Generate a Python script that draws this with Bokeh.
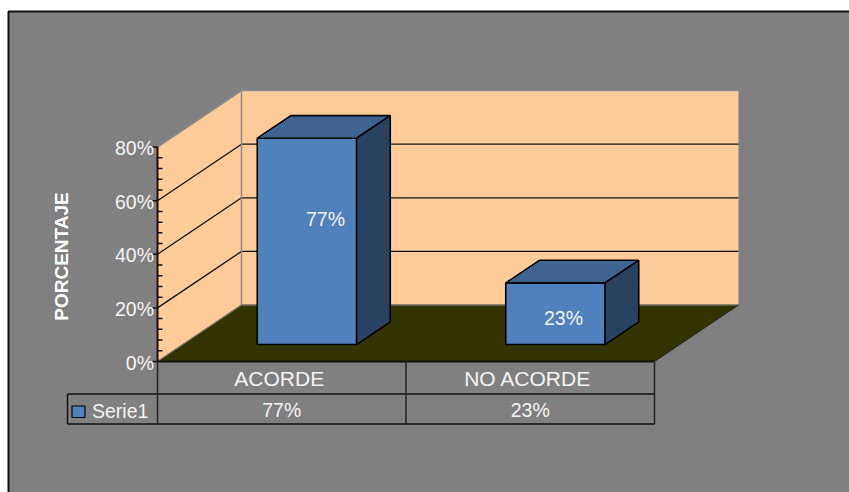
from bokeh.plotting import figure
from bokeh.embed import file_html
from bokeh.resources import INLINE
from bokeh.core.properties import value

# ---- data ----
categories = ["ACORDE", "NO ACORDE"]
series_name = "Serie1"
series_values = [77, 23]
y_ticks = [0, 20, 40, 60, 80]
minor_step = 4
y_title = "PORCENTAJE"

# ---- colours ----
GRAY, PEACH, FLOOR = "#808080", "#FFCC99", "#333300"
FRONT, TOP, SIDE = "#4F81BD", "#3E6490", "#294261"
TXT = "#F4F4F4"
FONT = value("Liberation Sans")

# ---- layout: one unit of x is one category, one unit of y is one percent ----
W, H = 849, 492
X0_PX, Y0_PX = 157, 361       # pixel of the front origin
XS, YS = 248.5, 2.68          # pixels per category / per percent
DX, DY = 84 / XS, 56.5 / YS   # oblique offset for full depth, in data units
Zb0, Zb1, GAP = 0.3, 0.7, 0.3 # depth of bars, and side gap in a category
ymax = y_ticks[-1]
n = len(categories)


def fx(px):
    return (px - X0_PX) / XS


def fy(py):
    return (Y0_PX - py) / YS


def P(x, v, z=0.0):
    return x + z * DX, v + z * DY


p = figure(width=W, height=H, output_backend="svg", toolbar_location=None,
           x_range=(fx(0), fx(W)), y_range=(fy(H), fy(0)),
           min_border=0, outline_line_color=None)
p.axis.visible = False
p.grid.visible = False
p.background_fill_color = "white"
p.border_fill_color = "white"


def poly(pts, fill, line=None, lw=1.0):
    xs, ys = zip(*pts)
    p.patch(list(xs), list(ys), fill_color=fill, line_color=line, line_width=lw)


def line(pts, color="black", lw=1.0):
    xs, ys = zip(*pts)
    p.line(list(xs), list(ys), line_color=color, line_width=lw)


def txt(x, y, s, size=19.5, align="center", angle=0.0, style="normal", color=TXT):
    p.text([x], [y], text=[s], text_font=FONT, text_font_size=f"{size}px",
           text_color=color, text_align=align, text_baseline="middle",
           angle=angle, text_font_style=style)


# chart area with its frame
poly([(fx(8), fy(11)), (fx(860), fy(11)), (fx(860), fy(500)), (fx(8), fy(500))], GRAY, "#111111", 2)

# walls and floor
poly([P(0, 0), P(0, ymax), P(0, ymax, 1), P(0, 0, 1)], PEACH)
poly([P(0, 0, 1), P(0, ymax, 1), P(n, ymax, 1), P(n, 0, 1)], PEACH)
poly([P(0, 0), P(n, 0), P(n, 0, 1), P(0, 0, 1)], FLOOR)

# gridlines
for t in y_ticks[1:-1]:
    line([P(0, t), P(0, t, 1), P(n, t, 1)], "#111111", 1.3)

# wall edges
line([P(0, ymax), P(0, ymax, 1), P(n, ymax, 1)], "#8A8A8A", 1.5)
line([P(0, 0, 1), P(0, ymax, 1)], "#8A8A8A", 1.5)
line([P(0, 0), P(0, 0, 1), P(n, 0, 1)], "#6E6E60", 1.5)
line([P(n, 0), P(n, 0, 1)], "#222222", 1)

# bars
for i, v in enumerate(series_values):
    a, b = i + GAP, i + 1 - GAP
    poly([P(a, 0, Zb0), P(b, 0, Zb0), P(b, v, Zb0), P(a, v, Zb0)], FRONT, "black", 1.6)
    poly([P(a, v, Zb0), P(b, v, Zb0), P(b, v, Zb1), P(a, v, Zb1)], TOP, "black", 1.6)
    poly([P(b, 0, Zb0), P(b, 0, Zb1), P(b, v, Zb1), P(b, v, Zb0)], SIDE, "black", 1.6)

# bar labels
label_shift_px = [18.5, 8]
label_y_px = [218, 317]
for i, v in enumerate(series_values):
    cx, _ = P(i + 0.5, 0, Zb0)
    txt(cx + label_shift_px[i] / XS, fy(label_y_px[i]), f"{v}%")

# value axis
line([P(0, 0), P(0, ymax)], "#111111", 2)
for t in range(0, ymax + 1, minor_step):
    if t in y_ticks:
        line([(fx(X0_PX - 5), t), (0, t)], "#111111", 1.5)
        txt(fx(X0_PX - 3.5), t - 0.4, f"{t}%", align="right")
    else:
        line([(0, t), (fx(X0_PX + 5), t)], "#111111", 1.5)

txt(fx(61), fy(256), y_title, size=19, angle=1.5707963, style="bold", color="#FFFFFF")

# data table
row0, row1, row2 = fy(361), fy(393.5), fy(423.5)
left = fx(67)
line([(0, row0), (n, row0)], "#111111", 1.8)
line([(left, row1), (n, row1)], "#111111", 1.5)
line([(left, row2), (n, row2)], "#111111", 1.5)
line([(left, row1), (left, row2)], "#111111", 1.5)
for i in range(n + 1):
    line([(i, row0), (i, row2)], "#222222", 1.5)
for i, c in enumerate(categories):
    txt(i + 0.49, fy(377.5), c, size=21)
    txt(i + 0.5, fy(409), f"{series_values[i]}%")
poly([(fx(71.5), fy(405.5)), (fx(84.5), fy(405.5)), (fx(84.5), fy(417)), (fx(71.5), fy(417))], FRONT, "black", 1.2)
txt(fx(91.5), fy(410.5), series_name, align="left")

open("out.html", "w").write(file_html(p, INLINE))
